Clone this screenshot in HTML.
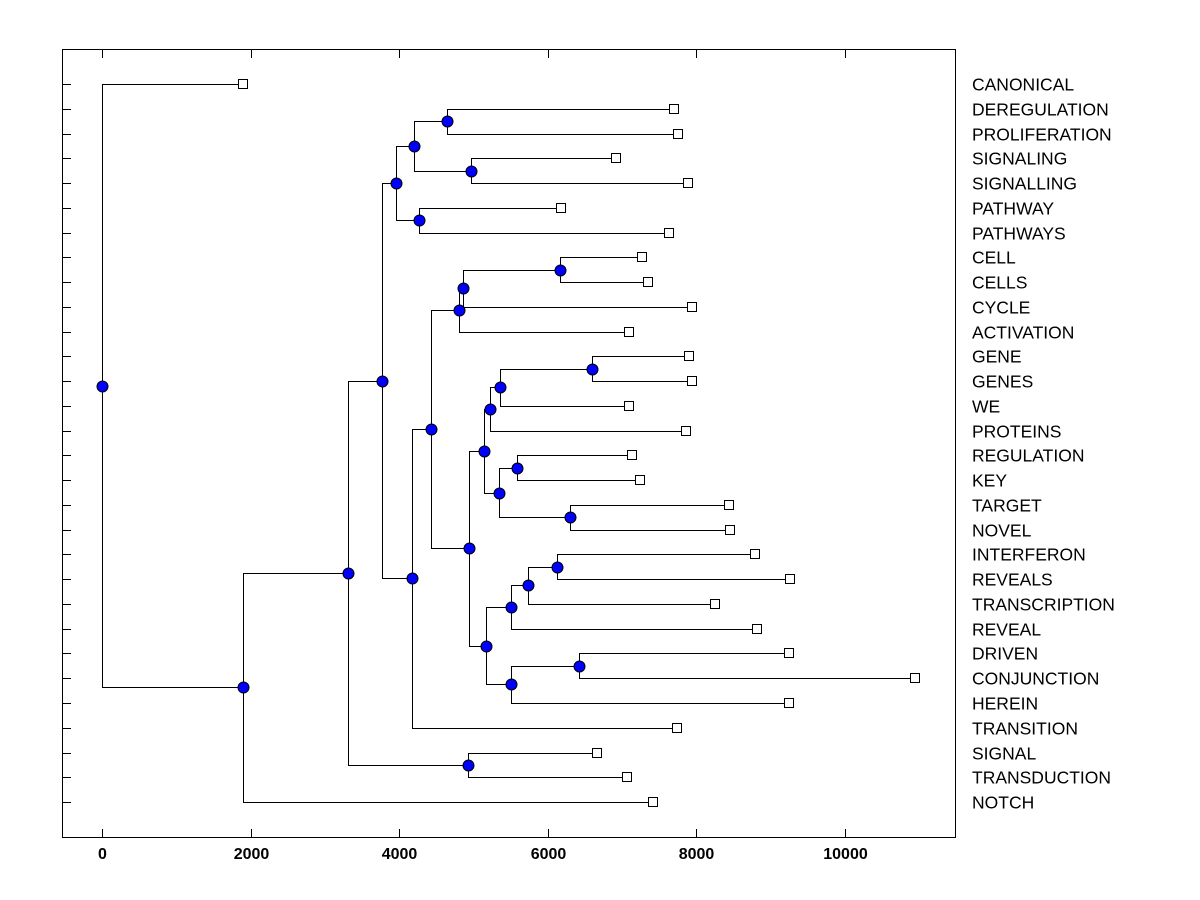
<!DOCTYPE html>
<html><head><meta charset="utf-8"><style>
body{margin:0;background:#fff}
svg{display:block}
text{font-family:"Liberation Sans",Arial,sans-serif;fill:#000}
</style></head><body>
<svg id="chart" width="1200" height="900">
<rect x="62.5" y="49.5" width="893" height="788" fill="none" stroke="#000"/>
<g id="axes"></g><g id="links"></g><g id="marks"></g>
</svg>
<script>
const leafNames=["CANONICAL","DEREGULATION","PROLIFERATION","SIGNALING","SIGNALLING","PATHWAY","PATHWAYS","CELL","CELLS","CYCLE","ACTIVATION","GENE","GENES","WE","PROTEINS","REGULATION","KEY","TARGET","NOVEL","INTERFERON","REVEALS","TRANSCRIPTION","REVEAL","DRIVEN","CONJUNCTION","HEREIN","TRANSITION","SIGNAL","TRANSDUCTION","NOTCH"];
const leafValues=[1898,7700,7752,6918,7887,6178,7631,7268,7349,7941,7093,7900,7941,7093,7860,7133,7241,8439,8452,8789,9260,8250,8815,9246,10942,9246,7739,6662,7066,7416];
const nodeNames=["root","nA","nB","nSig","nC","nD","nF","nDereg","nSignaling","nPath","nE","nG","nCell","nCell2","nCell3","nH","nI","nGene","nGene2","nGene3","nReg","nKey","nTarget","nJ","nK","nInter","nInter2","nDriven","nDriven2"];
const nodeHeights=[0,1898,3311,4926,3768,3957,4199,4643,4966,4266,4172,4428,4805,4859,6164,4939,5141,5222,5357,6595,5343,5585,6299,5168,5505,5733,6124,5505,6420];
const nodeLeft=["CANONICAL","nB","nC","SIGNAL","nD","nF","nDereg","DEREGULATION","SIGNALING","PATHWAY","nG","nCell","nCell2","nCell3","CELL","nI","nGene","nGene2","nGene3","GENE","nKey","REGULATION","TARGET","nK","nInter","nInter2","INTERFERON","nDriven2","DRIVEN"];
const nodeRight=["nA","NOTCH","nSig","TRANSDUCTION","nE","nPath","nSignaling","PROLIFERATION","SIGNALLING","PATHWAYS","TRANSITION","nH","ACTIVATION","CYCLE","CELLS","nJ","nReg","PROTEINS","WE","GENES","nTarget","KEY","NOVEL","nDriven","REVEAL","TRANSCRIPTION","REVEALS","HEREIN","CONJUNCTION"];
const xTicks=[0,2000,4000,6000,8000,10000];

const NS="http://www.w3.org/2000/svg";
const xs=v=>102+v*0.0743;
const ys=i=>84+i*24.76;
function mk(tag,attrs,parent){const e=document.createElementNS(NS,tag);for(const k in attrs)e.setAttribute(k,attrs[k]);document.getElementById(parent).appendChild(e);return e;}

xTicks.forEach(t=>{
  const x=Math.round(xs(t))+0.5;
  let e=mk('line',{x1:x,x2:x,y1:50,y2:58,stroke:'#000'},'axes');
  
  
  e=mk('line',{x1:x,x2:x,y1:829,y2:837,stroke:'#000'},'axes');
  
  
  e=mk('text',{x:x,y:859,'text-anchor':'middle','font-size':16,'font-weight':'bold'},'axes');e.textContent=t;
  
  
});
leafNames.forEach((n,i)=>{
  const y=Math.round(ys(i))+0.5;
  let e=mk('line',{x1:63,x2:71,y1:y,y2:y,stroke:'#000'},'axes');
  
  
  e=mk('text',{x:972,y:y+6,'font-size':17.5},'axes');e.textContent=n;
  
  
});
const pos={};
leafNames.forEach((n,i)=>pos[n]={x:xs(leafValues[i]),y:ys(i)});
function get(n){
  if(pos[n])return pos[n];
  const k=nodeNames.indexOf(n);
  const a=get(nodeLeft[k]),b=get(nodeRight[k]);
  pos[n]={x:xs(nodeHeights[k]),y:(a.y+b.y)/2,a:a,b:b};
  return pos[n];
}
nodeNames.forEach(n=>{
  const p=get(n);
  const d=`M${Math.round(p.a.x)},${Math.round(p.a.y)}H${Math.round(p.x)}V${Math.round(p.b.y)}H${Math.round(p.b.x)}`;
  const e=mk('path',{d:d,fill:'none',stroke:'#000','stroke-width':1,transform:'translate(0.5,0.5)'},'links');
  
  
});
leafNames.forEach(n=>{
  const p=pos[n];
  const e=mk('rect',{x:Math.round(p.x)-4.5,y:Math.round(p.y)-4.5,width:9,height:9,fill:'#fff',stroke:'#000'},'marks');
  
  
});
nodeNames.forEach(n=>{
  const p=pos[n];
  const e=mk('circle',{cx:Math.round(p.x)+0.5,cy:Math.round(p.y)+0.5,r:5.5,fill:'#0000ff',stroke:'#000'},'marks');
  
  
});
</script>
</body></html>
